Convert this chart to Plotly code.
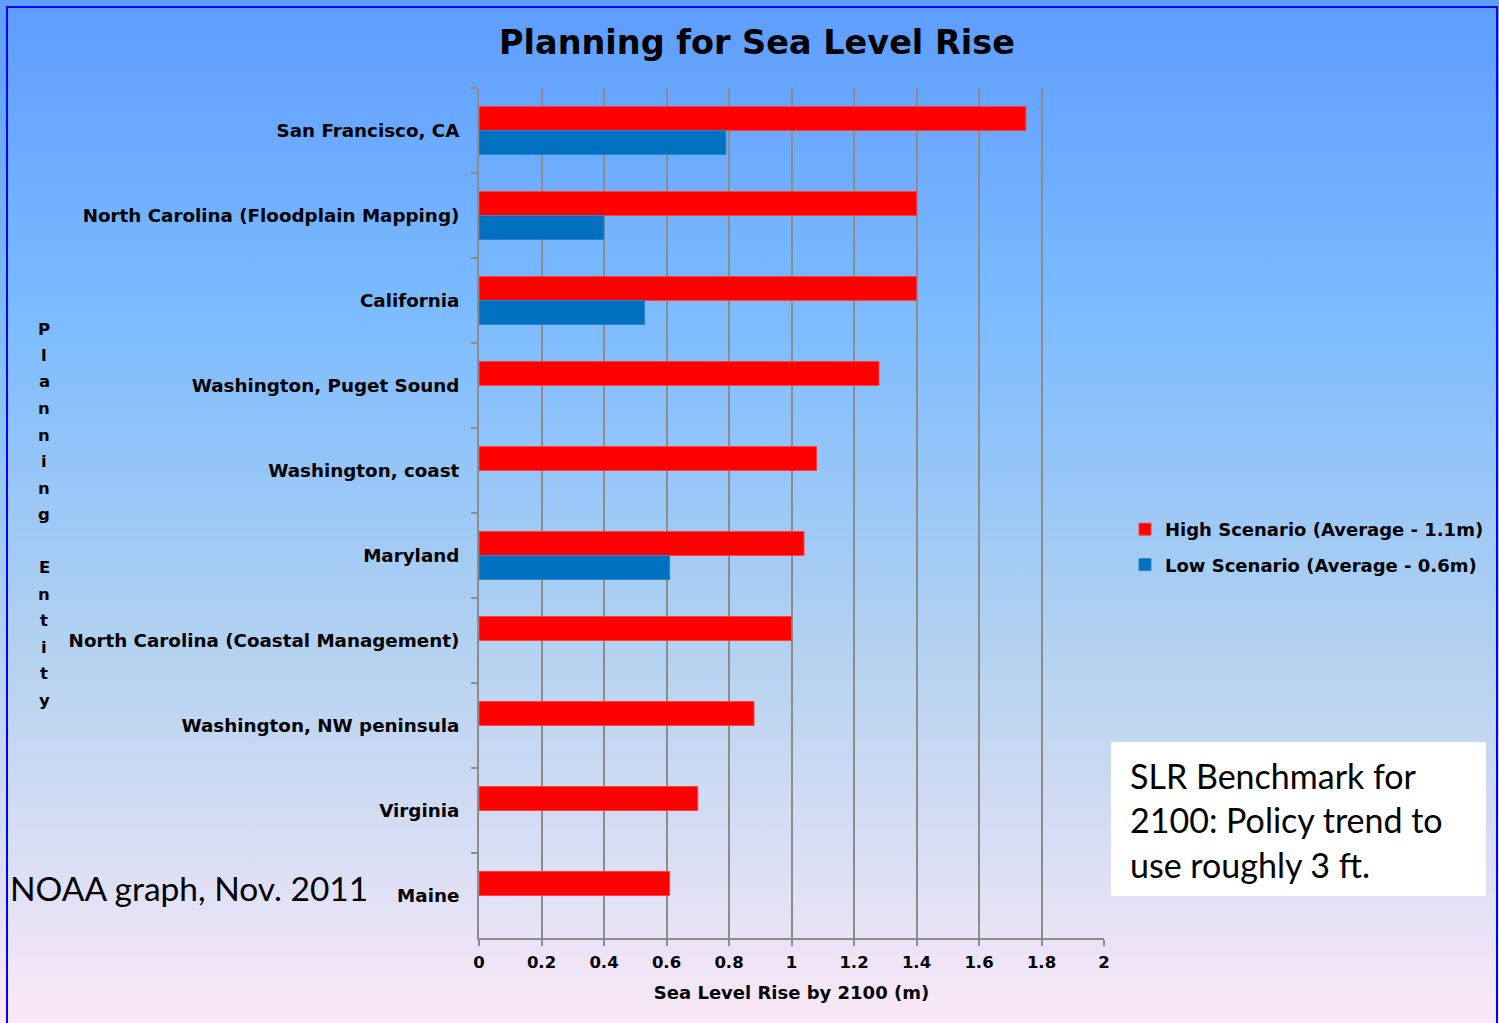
import base64
import plotly.graph_objects as go

# Planning entities (top to bottom) and projected rise by 2100, in metres
entities = [
    "San Francisco, CA",
    "North Carolina (Floodplain Mapping)",
    "California",
    "Washington, Puget Sound",
    "Washington, coast",
    "Maryland",
    "North Carolina (Coastal Management)",
    "Washington, NW peninsula",
    "Virginia",
    "Maine",
]
high_scenario = [1.75, 1.40, 1.40, 1.28, 1.08, 1.04, 1.00, 0.88, 0.70, 0.61]
low_scenario = [0.79, 0.40, 0.53, None, None, 0.61, None, None, None, None]

high_name = "High Scenario (Average - 1.1m)"
low_name = "Low Scenario (Average - 0.6m)"
x_ticks = [0, 0.2, 0.4, 0.6, 0.8, 1, 1.2, 1.4, 1.6, 1.8, 2]
x_tick_text = ["0", "0.2", "0.4", "0.6", "0.8", "1", "1.2", "1.4", "1.6", "1.8", "2"]

W, H = 1499, 1023
L, R, T, B = 479, 1104, 88, 938
PW, PH = R - L, B - T


def px(x):
    return (x - L) / PW


def py(y):
    return (B - y) / PH


CHART_FONT = "DejaVu Sans"
NOTE_FONT = "Lato"
GRID = "#8c8c8c"


def bold(size):
    return dict(family=CHART_FONT, size=size, color="black", weight="bold")


fig = go.Figure()
fig.add_trace(go.Bar(
    y=entities, x=high_scenario, orientation="h", name=high_name,
    marker=dict(color="#ff0000", line=dict(color="#ff4040", width=1)),
    legendgroup="high",
))
fig.add_trace(go.Bar(
    y=entities, x=low_scenario, orientation="h", name=low_name,
    marker=dict(color="#0070c0", line=dict(color="#2a86cc", width=1)),
    legendgroup="low",
))

# soft vertical background gradient, blue at the top fading to pale pink
svg = f"""<svg xmlns='http://www.w3.org/2000/svg' width='{W}' height='{H}' preserveAspectRatio='none'>
<defs><linearGradient id='g' x1='0' y1='0' x2='0' y2='1'>
<stop offset='0' stop-color='rgb(94,156,255)'/>
<stop offset='0.3' stop-color='rgb(123,187,255)'/>
<stop offset='0.64' stop-color='rgb(180,210,240)'/>
<stop offset='0.93' stop-color='rgb(236,228,246)'/>
<stop offset='1' stop-color='rgb(251,232,248)'/>
</linearGradient></defs>
<rect width='{W}' height='{H}' fill='url(#g)'/></svg>"""
bg_uri = "data:image/svg+xml;base64," + base64.b64encode(svg.encode()).decode()

annotations = []
# vertically stacked axis title
letters = list("Planning") + [""] + list("Entity")
for i, ch in enumerate(letters):
    if not ch:
        continue
    annotations.append(dict(
        text=ch, xref="paper", yref="paper", x=px(44), y=py(329 + i * 26.5),
        xanchor="center", yanchor="middle", showarrow=False, font=bold(16.5),
    ))

annotations.append(dict(
    text="NOAA graph, Nov. 2011", xref="paper", yref="paper",
    x=px(8), y=py(888), xanchor="left", yanchor="middle", showarrow=False,
    font=dict(family=NOTE_FONT, size=33.5, color="black"),
))
note_lines = ["SLR Benchmark for", "2100: Policy trend to", "use roughly 3 ft."]
for i, line in enumerate(note_lines):
    annotations.append(dict(
        text=line, xref="paper", yref="paper",
        x=px(1128), y=py(775 + i * 44.5), xanchor="left", yanchor="middle",
        showarrow=False, font=dict(family=NOTE_FONT, size=34, color="black"),
    ))

shapes = [
    dict(type="rect", xref="paper", yref="paper",
         x0=px(1111), x1=px(1486), y0=py(742), y1=py(896),
         fillcolor="white", line=dict(width=0), layer="above"),
    dict(type="rect", xref="paper", yref="paper",
         x0=px(7), x1=px(1497), y0=py(7), y1=py(1040),
         fillcolor="rgba(0,0,0,0)", line=dict(color="#0000ff", width=2)),
]

fig.update_layout(
    width=W, height=H,
    margin=dict(l=L, r=W - R, t=T, b=H - B, pad=0, autoexpand=False),
    paper_bgcolor="rgb(251,232,248)",
    plot_bgcolor="rgba(0,0,0,0)",
    barmode="group", bargap=0.435, bargroupgap=0,
    title=dict(
        text="Planning for Sea Level Rise", x=757 / W, xref="container",
        y=1 - 42 / H, yref="container", xanchor="center", yanchor="middle",
        font=bold(33.5),
    ),
    xaxis=dict(
        range=[0, 2], tickvals=x_ticks, ticktext=x_tick_text,
        showgrid=True, gridcolor=GRID, gridwidth=2,
        showline=True, linecolor=GRID, linewidth=2,
        ticks="outside", ticklen=6, tickcolor=GRID, tickwidth=2,
        ticklabelstandoff=2,
        zeroline=False,
        tickfont=bold(16.5),
        title=dict(text="Sea Level Rise by 2100 (m)", standoff=16, font=bold(18)),
    ),
    yaxis=dict(
        autorange="reversed", showgrid=False,
        showline=True, linecolor=GRID, linewidth=2,
        ticks="outside", tickson="boundaries", ticklen=6, tickcolor=GRID, tickwidth=2,
        ticklabelstandoff=14,
        tickfont=bold(18.3),
    ),
    legend=dict(
        x=px(1125), y=py(511), xanchor="left", yanchor="top",
        bgcolor="rgba(0,0,0,0)", traceorder="grouped", tracegroupgap=9,
        font=bold(18),
    ),
    images=[dict(source=bg_uri, xref="paper", yref="paper",
                 x=px(0), y=py(0), sizex=W / PW, sizey=H / PH,
                 xanchor="left", yanchor="top", sizing="stretch", layer="below")],
    annotations=annotations,
    shapes=shapes,
)

fig.write_html("out.html")
